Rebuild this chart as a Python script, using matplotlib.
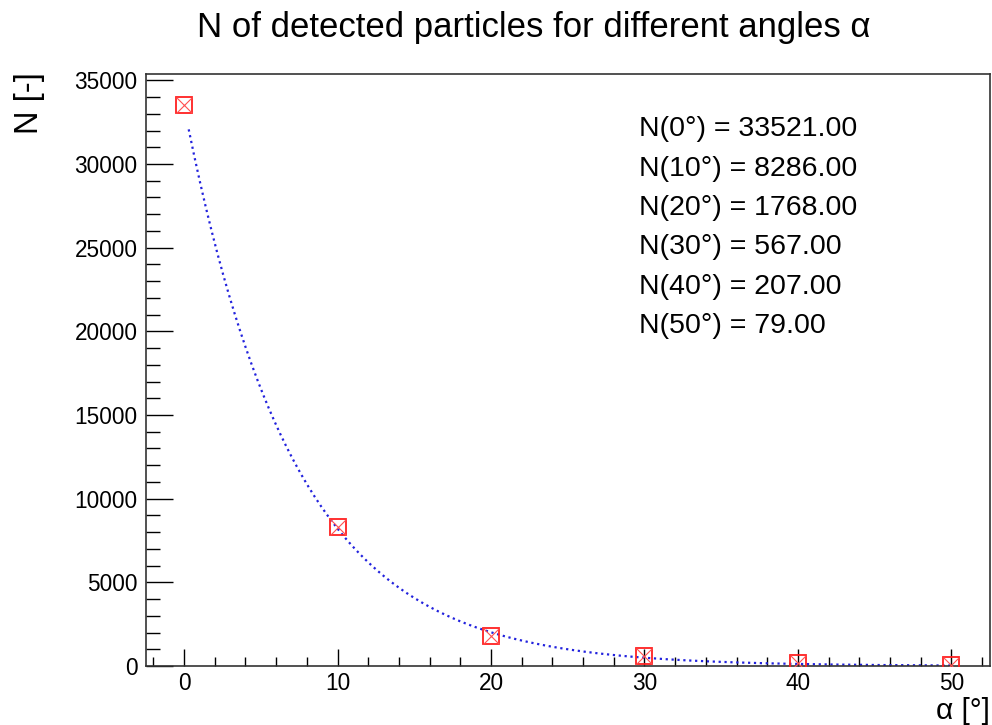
import numpy as np
import matplotlib.pyplot as plt

plt.rcParams['font.family'] = ['Liberation Sans', 'DejaVu Sans']

# data
angles = np.array([0, 10, 20, 30, 40, 50])
counts = np.array([33521, 8286, 1768, 567, 207, 79])

# exponential fit N = A*exp(-b*x), weights 1/N (poisson chi2)
best = None
for b in np.linspace(0.05, 0.3, 5001):
    f = np.exp(-b * angles)
    w = 1.0 / counts
    A = np.sum(w * counts * f) / np.sum(w * f * f)
    chi2 = np.sum(w * (counts - A * f) ** 2)
    if best is None or chi2 < best[0]:
        best = (chi2, A, b)
_, A_fit, b_fit = best
xfit = np.linspace(0.3, 50, 400)
yfit = A_fit * np.exp(-b_fit * xfit)

fig = plt.figure(figsize=(9.92, 7.25), dpi=100)
ax = fig.add_axes([0.1469, 0.0814, 0.8508, 0.8161])

ax.plot(xfit, yfit, linestyle=':', color='#2222dd', lw=1.6, zorder=2)
ax.plot(angles, counts, linestyle='none', marker='s', markersize=12,
        markerfacecolor='none', markeredgecolor='#ff2020', markeredgewidth=1.3, zorder=3)
ax.plot(angles, counts, linestyle='none', marker='x', markersize=11.5,
        markeredgecolor='#ff5050', markeredgewidth=0.8, zorder=3)

ax.set_xlim(-2.5, 52.5)
ax.set_ylim(0, 35360)
ax.set_xticks(np.arange(0, 51, 10))
ax.set_xticks(np.arange(-2, 53, 2), minor=True)
ax.set_yticks(np.arange(0, 35001, 5000))
ax.set_yticks(np.arange(0, 35001, 1000), minor=True)
ax.tick_params(which='both', direction='in', top=False, right=False, labelsize=16.3, width=1)
ax.tick_params(axis='x', which='major', length=12, pad=4)
ax.tick_params(axis='x', which='minor', length=6.5)
ax.tick_params(axis='y', which='major', length=19.5, pad=6)
ax.tick_params(axis='y', which='minor', length=10)
for s in ax.spines.values():
    s.set_linewidth(1.2)
    s.set_color('#333333')

fig.text(0.538, 0.962, 'N of detected particles for different angles \u03b1',
         ha='center', va='center', fontsize=25)
fig.text(0.03, 0.9, 'N [-]', rotation=90, ha='center', va='top', fontsize=23.5)
fig.text(0.998, 0.0, '\u03b1 [\u00b0]', ha='right', va='bottom', fontsize=21.5)

for i, (a, n) in enumerate(zip(angles, counts)):
    ax.text(0.585, 0.907 - i * 0.0665, 'N(%d\u00b0) = %.2f' % (a, n),
            transform=ax.transAxes, ha='left', va='center', fontsize=20.5)

fig.savefig('out.png', dpi=100)
